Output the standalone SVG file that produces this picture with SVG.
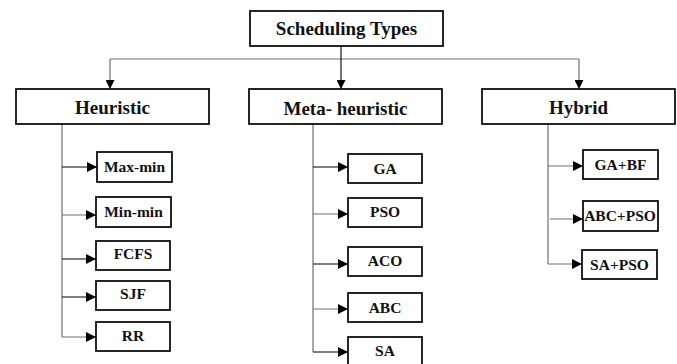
<svg xmlns="http://www.w3.org/2000/svg" width="677" height="364" viewBox="0 0 677 364">
<style>
  .box { fill: #fff; stroke: #000; stroke-width: 1.7; }
  .t1 { font-family: 'Liberation Serif', 'Times New Roman', Times, 'DejaVu Serif', serif; font-weight: 700; font-size: 19px; text-anchor: middle; fill: #111; }
  .t2 { font-family: 'Liberation Serif', 'Times New Roman', Times, 'DejaVu Serif', serif; font-weight: 700; font-size: 15.5px; text-anchor: middle; fill: #111; }
  .stem { fill: none; stroke: #6e6e6e; stroke-width: 1.2; }
  .arr { fill: none; stroke: #000; stroke-width: 1.1; }
</style>
<defs>
  <marker id="ah" markerUnits="userSpaceOnUse" markerWidth="10" markerHeight="10" refX="10" refY="5" orient="auto">
    <path d="M0,0 L10,5 L0,10 z" fill="#000"/>
  </marker>
  <marker id="ad" markerUnits="userSpaceOnUse" markerWidth="9" markerHeight="9" refX="9" refY="4.5" orient="auto">
    <path d="M0,0 L9,4.5 L0,9 z" fill="#000"/>
  </marker>
</defs>
<g id="connectors">
  <path class="stem" d="M110,59 H579"/>
  <path class="arr" d="M341,46 V89" marker-end="url(#ad)"/>
  <path class="stem" d="M110,59 V89" marker-end="url(#ad)"/>
  <path class="stem" d="M579,59 V89" marker-end="url(#ad)"/>
  <path class="stem" d="M62,124 V337"/>
  <path class="arr" d="M62,167 H97" marker-end="url(#ah)"/>
  <path class="stem" d="M62,215 H96" marker-end="url(#ah)"/>
  <path class="arr" d="M62,259 H96" marker-end="url(#ah)"/>
  <path class="arr" d="M62,297 H96" marker-end="url(#ah)"/>
  <path class="stem" d="M62,337 H96" marker-end="url(#ah)"/>
  <path class="stem" d="M313,124 V352"/>
  <path class="arr" d="M313,167 H348" marker-end="url(#ah)"/>
  <path class="stem" d="M313,214 H348" marker-end="url(#ah)"/>
  <path class="arr" d="M313,264 H348" marker-end="url(#ah)"/>
  <path class="stem" d="M313,309 H348" marker-end="url(#ah)"/>
  <path class="arr" d="M313,352 H348" marker-end="url(#ah)"/>
  <path class="stem" d="M548,124 V264"/>
  <path class="stem" d="M548,166 H583" marker-end="url(#ah)"/>
  <path class="stem" d="M550,219 H583" marker-end="url(#ah)"/>
  <path class="stem" d="M548,264 H582" marker-end="url(#ah)"/>
</g>
<g id="scheduling-types">
  <rect class="box" x="250" y="11" width="193" height="35"/>
  <text class="t1" x="346.5" y="35">Scheduling Types</text>
</g>
<g id="heuristic">
  <rect class="box" x="16" y="89" width="193" height="35"/>
  <text class="t1" x="112.5" y="114">Heuristic</text>
</g>
<g id="meta-heuristic">
  <rect class="box" x="249" y="89" width="193" height="35"/>
  <text class="t1" x="345.5" y="115">Meta- heuristic</text>
</g>
<g id="hybrid">
  <rect class="box" x="482" y="89" width="193" height="35"/>
  <text class="t1" x="578.5" y="114">Hybrid</text>
</g>
<g id="max-min">
  <rect class="box" x="97" y="152" width="75" height="30"/>
  <text class="t2" x="134.5" y="172">Max-min</text>
</g>
<g id="min-min">
  <rect class="box" x="96" y="197" width="75" height="30"/>
  <text class="t2" x="133.5" y="217">Min-min</text>
</g>
<g id="fcfs">
  <rect class="box" x="96" y="241" width="74" height="29"/>
  <text class="t2" x="133" y="258.5">FCFS</text>
</g>
<g id="sjf">
  <rect class="box" x="96" y="281" width="74" height="29"/>
  <text class="t2" x="133" y="299">SJF</text>
</g>
<g id="rr">
  <rect class="box" x="96" y="322" width="74" height="29"/>
  <text class="t2" x="133" y="341">RR</text>
</g>
<g id="ga">
  <rect class="box" x="348" y="154" width="74" height="29"/>
  <text class="t2" x="385" y="173.5">GA</text>
</g>
<g id="pso">
  <rect class="box" x="348" y="198" width="74" height="29"/>
  <text class="t2" x="385" y="217">PSO</text>
</g>
<g id="aco">
  <rect class="box" x="348" y="247" width="74" height="29"/>
  <text class="t2" x="385" y="266">ACO</text>
</g>
<g id="abc">
  <rect class="box" x="348" y="293" width="74" height="29"/>
  <text class="t2" x="385" y="312.5">ABC</text>
</g>
<g id="sa">
  <rect class="box" x="348" y="337" width="74" height="29"/>
  <text class="t2" x="385" y="356">SA</text>
</g>
<g id="ga-bf">
  <rect class="box" x="583" y="150" width="75" height="29"/>
  <text class="t2" x="620.5" y="169.5">GA+BF</text>
</g>
<g id="abc-pso">
  <rect class="box" x="583" y="201" width="75" height="30"/>
  <text class="t2" x="620" y="220.5">ABC+PSO</text>
</g>
<g id="sa-pso">
  <rect class="box" x="582" y="250" width="75" height="29"/>
  <text class="t2" x="619.5" y="269.5">SA+PSO</text>
</g>
</svg>
